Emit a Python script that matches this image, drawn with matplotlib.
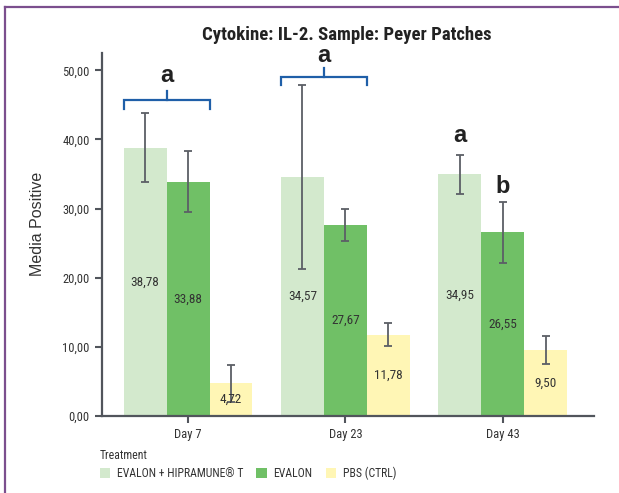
import numpy as np
import matplotlib
matplotlib.use("Agg")
import matplotlib.pyplot as plt
from matplotlib.lines import Line2D
from matplotlib.patches import Patch
from matplotlib.ticker import FuncFormatter

# datos IL-2, placas de Peyer
days = ["Day 7", "Day 23", "Day 43"]
treatments = ["EVALON + HIPRAMUNE® T", "EVALON", "PBS (CTRL)"]
evalon_hipra = [38.78, 34.57, 34.95]
evalon = [33.88, 27.67, 26.55]
pbs = [4.72, 11.78, 9.50]
err_evalon_hipra = [5.0, 13.3, 2.8]
err_evalon = [4.4, 2.3, 4.45]
err_pbs = [2.7, 1.65, 2.0]

# letras de significancia
sig_day7 = "a"
sig_day23 = "a"
sig_day43 = ["a", "b"]

colors = ["#d3e9cd", "#70c066", "#fff6b5"]
narrow = ["Roboto Condensed", "Fira Sans Condensed", "Encode Sans Condensed", "DejaVu Sans"]
arial = ["Liberation Sans", "DejaVu Sans"]

fig = plt.figure(figsize=(6.19, 4.93), dpi=100)
ax = fig.add_axes([0.1648, 0.1562, 0.795, 0.7363])

x = np.arange(len(days))
w = 0.273
series = [evalon_hipra, evalon, pbs]
errs = [err_evalon_hipra, err_evalon, err_pbs]
for i, (vals, e) in enumerate(zip(series, errs)):
    pos = x + (i - 1) * w
    ax.bar(pos, vals, w, color=colors[i], zorder=2)
    ax.errorbar(pos, vals, yerr=e, fmt="none", ecolor="#5c5f66", elinewidth=1.3,
                capsize=3, capthick=1.3, zorder=3)
    for px, v in zip(pos, vals):
        ax.text(px, v / 2, f"{v:.2f}".replace(".", ","), ha="center", va="center",
                fontsize=9.5, color="#333333", family=narrow, zorder=4)

ax.set_xlim(-0.547, 2.581)
ax.set_ylim(0, 52.5)
ax.set_yticks([0, 10, 20, 30, 40, 50])
ax.yaxis.set_major_formatter(FuncFormatter(lambda v, p: f"{v:.2f}".replace(".", ",")))
ax.set_xticks(x)
ax.set_xticklabels(days)
for s in ["top", "right"]:
    ax.spines[s].set_visible(False)
for s in ["left", "bottom"]:
    ax.spines[s].set_color("#51555c")
    ax.spines[s].set_linewidth(1.6)
ax.tick_params(axis="both", length=5, width=1.5, color="#51555c", labelcolor="#333333",
               labelsize=9, pad=4)
for lab in ax.get_xticklabels() + ax.get_yticklabels():
    lab.set_family(narrow)

# corchetes azules con letras
blue = "#1f5fa8"
def bracket(x0, x1, y, drop, rise, letter, ly):
    xm = (x0 + x1) / 2
    ax.plot([x0, x0, x1, x1], [y - drop, y, y, y - drop], color=blue, lw=1.6,
            clip_on=False, solid_joinstyle="miter")
    ax.plot([xm, xm], [y, y + rise], color=blue, lw=1.6, clip_on=False)
    ax.text(xm, ly, letter, ha="center", va="center", fontsize=17, fontweight="bold",
            color="#222222", family=arial, clip_on=False)

bracket(x[0] - 1.5 * w, x[0] + 0.5 * w, 45.66, 1.2, 1.3, sig_day7, 49.3)
bracket(x[1] - 1.5 * w, x[1] + 0.5 * w, 49.0, 1.2, 1.3, sig_day23, 52.2)
ax.text(x[2] - w, 40.5, sig_day43[0], ha="center", va="center", fontsize=17,
        fontweight="bold", color="#222222", family=arial)
ax.text(x[2], 33.2, sig_day43[1], ha="center", va="center", fontsize=17,
        fontweight="bold", color="#222222", family=arial)

fig.text(0.560, 0.929, "Cytokine: IL-2. Sample: Peyer Patches", ha="center", va="center",
         fontsize=13.5, fontweight="bold", color="#222222", family=narrow)
fig.text(38 / 619, 1 - 224 / 493, "Media Positive", rotation=90, ha="center", va="center",
         fontsize=11.5, color="#333333", family=arial)

handles = [Patch(facecolor=c, edgecolor="none") for c in colors]
leg = fig.legend(handles, treatments, loc="upper left", bbox_to_anchor=(100 / 619, 1 - 449 / 493),
                 ncol=3, frameon=False, title="Treatment", alignment="left",
                 borderaxespad=0, borderpad=0, handlelength=0.85, handleheight=0.85,
                 handletextpad=0.6, columnspacing=1.1, labelspacing=0.4,
                 prop={"family": narrow, "size": 8.5})
leg.get_title().set_family(narrow)
leg.get_title().set_fontsize(8.5)
leg.get_title().set_color("#333333")
for t in leg.get_texts():
    t.set_color("#333333")

# marco morado
purple = "#7b4f8e"
fig.add_artist(Line2D([5 / 619, 5 / 619], [0, 1 - 6.5 / 493], color=purple, lw=1.6))
fig.add_artist(Line2D([5 / 619, 1], [1 - 6.5 / 493, 1 - 6.5 / 493], color=purple, lw=1.6))

fig.savefig("out.png", dpi=100)
